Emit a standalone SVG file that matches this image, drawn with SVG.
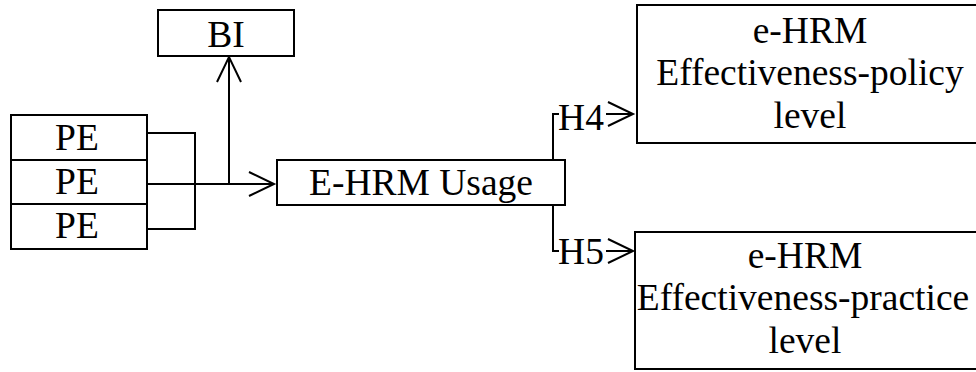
<svg xmlns="http://www.w3.org/2000/svg" width="976" height="372" viewBox="0 0 976 372">
<defs>
<style>
.box{fill:#fff;stroke:#000;stroke-width:2}
.ln{fill:none;stroke:#000;stroke-width:2}
.t{font-family:'Liberation Serif','Times New Roman',Tinos,'DejaVu Serif',serif;font-size:37.5px;fill:#000;text-anchor:middle}
</style>
<marker id="arr" viewBox="0 0 30 30" refX="27" refY="15" markerWidth="30" markerHeight="30" markerUnits="userSpaceOnUse" orient="auto">
<path d="M2,3 L27,15 L2,27" fill="none" stroke="#000" stroke-width="2"/>
</marker>
</defs>
<g id="connectors">
<path class="ln" d="M147,133 H195 V229 H147"/>
<path class="ln" d="M147,184 H274" marker-end="url(#arr)"/>
<path class="ln" d="M229,184 V57" marker-end="url(#arr)"/>
<path class="ln" d="M553,160 V114 H559"/>
<path class="ln" d="M606,114 H633" marker-end="url(#arr)"/>
<path class="ln" d="M553,205 V251 H559"/>
<path class="ln" d="M606,251 H633" marker-end="url(#arr)"/>
<text class="t" x="581" y="130">H4</text>
<text class="t" x="581" y="264">H5</text>
</g>
<g id="BI"><rect class="box" x="158" y="10" width="136" height="46"/><text class="t" x="226" y="47">BI</text></g>
<g id="PE1"><rect class="box" x="11" y="115" width="136" height="45"/><text class="t" x="77" y="150">PE</text></g>
<g id="PE2"><rect class="box" x="11" y="160" width="136" height="44"/><text class="t" x="77" y="194">PE</text></g>
<g id="PE3"><rect class="box" x="11" y="204" width="136" height="45"/><text class="t" x="77" y="238">PE</text></g>
<g id="usage"><rect class="box" x="277" y="160" width="288" height="45"/><text class="t" x="421" y="195">E-HRM Usage</text></g>
<g id="policy"><rect class="box" x="637" y="5" width="350" height="138"/>
<text class="t" x="810" y="43">e-HRM</text><text class="t" x="810" y="85">Effectiveness-policy</text><text class="t" x="810" y="128">level</text></g>
<g id="practice"><rect class="box" x="635" y="232" width="350" height="137"/>
<text class="t" x="805" y="268">e-HRM</text><text class="t" x="803" y="310">Effectiveness-practice</text><text class="t" x="805" y="353">level</text></g>
</svg>
